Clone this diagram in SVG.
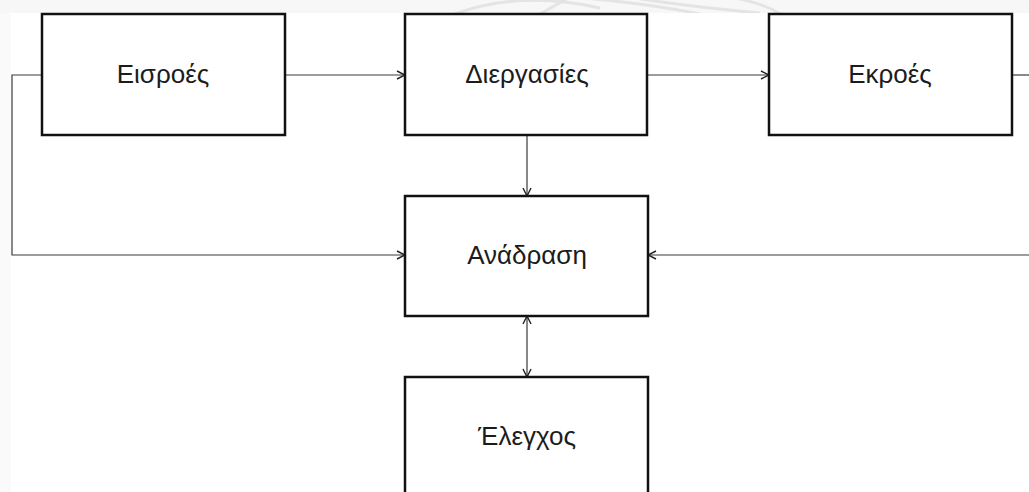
<svg xmlns="http://www.w3.org/2000/svg" width="1029" height="492" viewBox="0 0 1029 492">
  <style>
    .box { fill: #ffffff; stroke: #111111; stroke-width: 2.5; }
    .lbl { font-family: "Liberation Sans", Arial, sans-serif; font-size: 26px; fill: #1c1c1c; text-anchor: middle; }
    .wire { fill: none; stroke: #3a3a3a; stroke-width: 1.2; }
  </style>
  <defs>
    <marker id="tip" viewBox="0 0 10 10" refX="9" refY="5" markerWidth="10" markerHeight="10" markerUnits="userSpaceOnUse" orient="auto-start-reverse">
      <path d="M1,1 L9,5 L1,9" fill="none" stroke="#222222" stroke-width="1.4"/>
    </marker>
    <clipPath id="strip">
      <rect x="0" y="0" width="1029" height="13"/>
    </clipPath>
  </defs>

  <!-- page background -->
  <rect x="0" y="0" width="1029" height="492" fill="#ffffff"/>
  <rect x="0" y="0" width="1029" height="13" fill="#f7f7f7"/>
  <rect x="0" y="13" width="11" height="479" fill="#fafafa"/>
  <g clip-path="url(#strip)" fill="none" stroke="#e4e4e4" stroke-width="3">
    <path d="M455,14 Q520,-10 600,8"/>
    <path d="M540,14 L600,-20"/>
    <path d="M560,-4 Q640,2 700,14"/>
    <path d="M610,-6 Q680,6 760,13"/>
    <path d="M700,-8 Q760,0 780,14"/>
  </g>

  <!-- connectors -->
  <g id="connectors">
    <line class="wire" x1="286" y1="75" x2="405" y2="75" marker-end="url(#tip)"/>
    <line class="wire" x1="648" y1="75" x2="769" y2="75" marker-end="url(#tip)"/>
    <line class="wire" x1="1012" y1="75" x2="1029" y2="75"/>
    <polyline class="wire" points="42,75 12,75 12,255 405,255" marker-end="url(#tip)"/>
    <line class="wire" x1="527" y1="136" x2="527" y2="196" marker-end="url(#tip)"/>
    <line class="wire" x1="1029" y1="255" x2="648" y2="255" marker-end="url(#tip)"/>
    <line class="wire" x1="527" y1="316" x2="527" y2="377" marker-start="url(#tip)" marker-end="url(#tip)"/>
  </g>

  <g id="inputs">
    <rect class="box" x="42" y="14" width="243" height="121"/>
    <text class="lbl" x="163" y="83">Εισροές</text>
  </g>
  <g id="processes">
    <rect class="box" x="405" y="14" width="242" height="121"/>
    <text class="lbl" x="527" y="83">Διεργασίες</text>
  </g>
  <g id="outputs">
    <rect class="box" x="769" y="14" width="243" height="121"/>
    <text class="lbl" x="890" y="83">Εκροές</text>
  </g>
  <g id="feedback">
    <rect class="box" x="405" y="196" width="243" height="120"/>
    <text class="lbl" x="527" y="264">Ανάδραση</text>
  </g>
  <g id="control">
    <rect class="box" x="405" y="377" width="243" height="130"/>
    <text class="lbl" x="527" y="445">Έλεγχος</text>
  </g>
</svg>
